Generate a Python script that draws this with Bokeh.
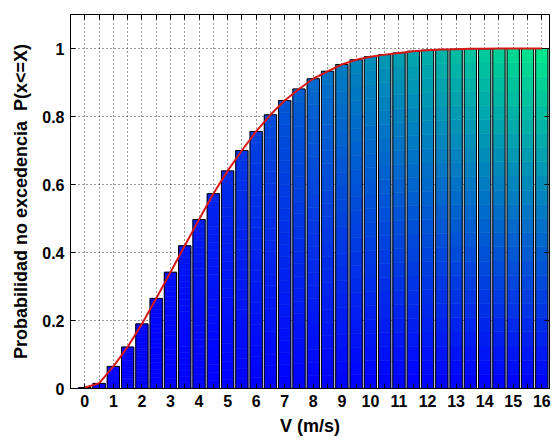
from bokeh.plotting import figure
from bokeh.models import (ColumnDataSource, FixedTicker, LinearAxis, PrintfTickFormatter,
                          Range1d)
from bokeh.embed import file_html
from bokeh.resources import INLINE

# Wind speed classes (m/s) and cumulative non-exceedance probability
speeds = [0, 0.5, 1, 1.5, 2, 2.5, 3, 3.5, 4, 4.5, 5, 5.5, 6, 6.5, 7, 7.5, 8,
          8.5, 9, 9.5, 10, 10.5, 11, 11.5, 12, 12.5, 13, 13.5, 14, 14.5, 15, 15.5, 16]
prob_cum = [0.003, 0.015, 0.065, 0.122, 0.19, 0.265, 0.342, 0.42, 0.497, 0.573,
            0.64, 0.70, 0.756, 0.805, 0.847, 0.881, 0.911, 0.933, 0.953, 0.967,
            0.976, 0.982, 0.987, 0.992, 0.995, 0.997, 0.998, 0.999, 0.999, 1.0,
            1.0, 1.0, 1.0]

x_ticks = list(range(0, 17))
x_minor = [i + 0.5 for i in range(-1, 17)]
y_ticks = [0, 0.2, 0.4, 0.6, 0.8, 1]

BAR_W = 0.43
N_SEG = 24
FONT = "Liberation Sans"


def winter(t):
    t = max(0.0, min(1.0, t))
    r, g, b = 0, int(round(255 * t)), int(round(255 * (1 - t / 2)))
    return "#%02x%02x%02x" % (r, g, b)


# vertical gradient slices for every bar (winter colormap)
seg = dict(left=[], right=[], bottom=[], top=[], color=[])
x_max = max(speeds)
for x, h in zip(speeds, prob_cum):
    for k in range(N_SEG):
        y0 = h * k / N_SEG
        y1 = h * (k + 1) / N_SEG
        t = 0.92 * (x / x_max) * (y0 + y1) / 2
        seg["left"].append(x - BAR_W / 2)
        seg["right"].append(x + BAR_W / 2)
        seg["bottom"].append(y0)
        seg["top"].append(y1)
        seg["color"].append(winter(t))

p = figure(width=560, height=441, output_backend="svg", toolbar_location=None,
           x_range=Range1d(-0.5, 16.27), y_range=Range1d(0, 1.1),
           min_border_left=70, min_border_right=11, min_border_top=14,
           min_border_bottom=53)
p.background_fill_color = "white"
p.border_fill_color = "white"
p.outline_line_color = "black"
p.outline_line_width = 1

p.quad(left="left", right="right", bottom="bottom", top="top",
       fill_color="color", line_color="color", line_width=0.6,
       source=ColumnDataSource(seg))
p.vbar(x=speeds, top=prob_cum, width=BAR_W, bottom=0, fill_color=None,
       line_color="black", line_width=1)
p.line(speeds, prob_cum, line_color="#d81818", line_width=2)

xt = FixedTicker(ticks=x_ticks, minor_ticks=x_minor)
yt = FixedTicker(ticks=y_ticks, minor_ticks=[])

x_bottom = p.below[0]
y_left = p.left[0]
x_bottom.ticker = xt
y_left.ticker = yt
y_left.formatter = PrintfTickFormatter(format="%g")

# box-style tick marks on the top and right edges, without labels
x_top = LinearAxis(ticker=xt, major_label_text_font_size="0px",
                   major_label_text_color=None, major_label_standoff=0)
y_right = LinearAxis(ticker=yt, major_label_text_font_size="0px",
                     major_label_text_color=None, major_label_standoff=0)
p.add_layout(x_top, "above")
p.add_layout(y_right, "right")

for ax in (x_bottom, y_left, x_top, y_right):
    ax.axis_line_color = "black"
    ax.major_tick_in = 5
    ax.major_tick_out = 0
    ax.minor_tick_in = 5
    ax.minor_tick_out = 0
    ax.major_tick_line_color = "black"
    ax.minor_tick_line_color = "black"

for ax in (x_bottom, y_left):
    ax.major_label_text_font = FONT
    ax.major_label_text_font_style = "bold"
    ax.major_label_text_color = "black"
    ax.major_label_text_font_size = "16px"
    ax.axis_label_text_font = FONT
    ax.axis_label_text_font_style = "bold"
    ax.axis_label_text_font_size = "18px"
    ax.axis_label_text_color = "black"

x_bottom.axis_label = "V (m/s)"
y_left.axis_label = "Probabilidad no excedencia\u00a0\u00a0P(x<=X)"
x_bottom.major_label_standoff = 6
x_bottom.axis_label_standoff = 6
y_left.major_label_standoff = 6
y_left.axis_label_standoff = 8

p.xgrid.ticker = xt
p.ygrid.ticker = yt
for g in (p.xgrid[0], p.ygrid[0]):
    g.grid_line_color = "black"
    g.grid_line_alpha = 0.8
    g.grid_line_dash = "1 3"
p.xgrid[0].minor_grid_line_color = "black"
p.xgrid[0].minor_grid_line_alpha = 0.8
p.xgrid[0].minor_grid_line_dash = "1 3"

open("out.html", "w").write(file_html(p, INLINE))
